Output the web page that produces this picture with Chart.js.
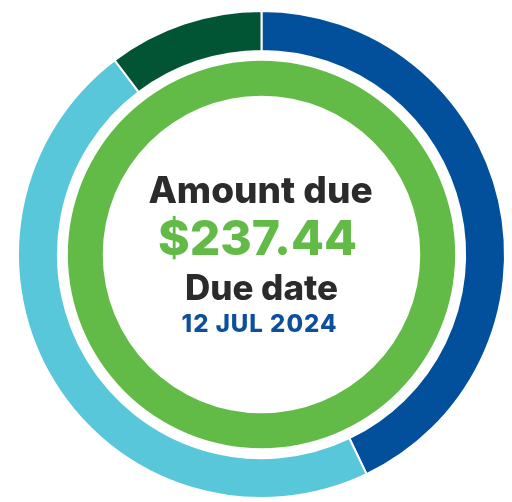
<!DOCTYPE html>
<html>
<head>
<meta charset="utf-8">
<script src="https://cdn.jsdelivr.net/npm/chart.js@4/dist/chart.umd.min.js"></script>
<style>
  html, body { margin: 0; padding: 0; background: #fff; }
  #wrap { width: 512px; height: 502px; }
</style>
</head>
<body>
<div id="wrap"><canvas id="chart-bill"></canvas></div>
<script>
// bill breakdown (percent of total) for the outer ring
const segmentLabels = ['Usage', 'Supply', 'Other'];
const segmentValues = [42.9, 46.8, 10.3];
const segmentColors = ['#02509b', '#57c7d9', '#015434'];

// centre text
const amountLabel = 'Amount due';
const amountValue = '$237.44';
const dateLabel = 'Due date';
const dateValue = '12 JUL 2024';

const centreText = {
    id: 'centreText',
    afterDraw(chart) {
        const ctx = chart.ctx;
        const cx = (chart.chartArea.left + chart.chartArea.right) / 2;
        ctx.save();
        ctx.textAlign = 'center';
        ctx.textBaseline = 'alphabetic';
        ctx.fillStyle = '#2b2b2b';
        ctx.font = '800 37px Inter';
        ctx.fillText(amountLabel, cx - 1, 203);
        ctx.fillStyle = '#62bb47';
        ctx.font = '800 48px Inter';
        ctx.fillText(amountValue, cx - 4, 255);
        ctx.fillStyle = '#2b2b2b';
        ctx.font = '800 35px Inter';
        ctx.fillText(dateLabel, cx, 300);
        ctx.fillStyle = '#0c4f9c';
        ctx.font = '800 24px Inter';
        ctx.letterSpacing = '1px';
        ctx.fillText(dateValue, cx - 2, 332);
        ctx.restore();
    }
};

new Chart(document.getElementById('chart-bill'), {
    type: 'doughnut',
    data: {
        labels: segmentLabels,
        datasets: [
            {
                data: segmentValues,
                backgroundColor: segmentColors,
                borderColor: '#ffffff',
                borderWidth: 2,
                weight: 40
            },
            {
                // blank gap between the two rings
                data: [1],
                backgroundColor: 'rgba(0,0,0,0)',
                borderWidth: 0,
                weight: 10
            },
            {
                data: [1],
                backgroundColor: '#62bb47',
                borderWidth: 0,
                weight: 35
            }
        ]
    },
    options: {
        responsive: true,
        maintainAspectRatio: false,
        animation: false,
        cutout: '65.2%',
        layout: { padding: { left: 17, right: 6, top: 10, bottom: 3 } },
        plugins: {
            legend: { display: false },
            tooltip: { enabled: false }
        }
    },
    plugins: [centreText]
});
</script>
</body>
</html>
